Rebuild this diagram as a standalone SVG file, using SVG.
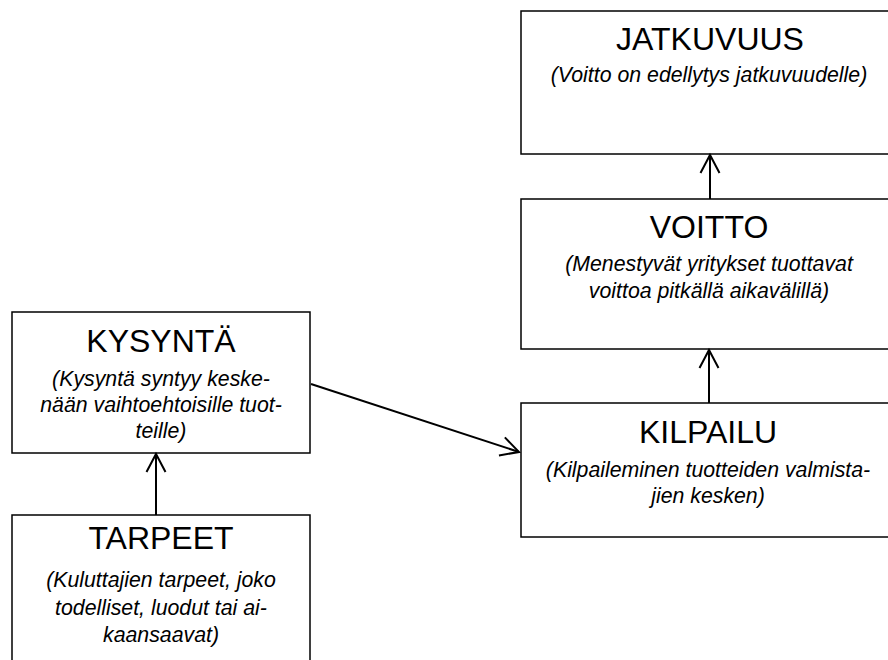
<svg xmlns="http://www.w3.org/2000/svg" width="888" height="660" viewBox="0 0 888 660">
<style>
.box{fill:#fff;stroke:#000;stroke-width:1.5}
.t{font-family:"Liberation Sans",Arial,sans-serif;font-size:32px;text-anchor:middle;fill:#000}
.s{font-family:"Liberation Sans",Arial,sans-serif;font-size:21.3px;font-style:italic;text-anchor:middle;fill:#000}
.c{stroke:#000;stroke-width:2;fill:none}
</style>
<defs>
<marker id="arr" markerUnits="userSpaceOnUse" markerWidth="30" markerHeight="30" viewBox="-22 -15 30 30" refX="0" refY="0" orient="auto">
<path d="M-18,-9.5 L0,0 L-18,9.5" fill="none" stroke="#000" stroke-width="2"/>
</marker>
</defs>
<rect width="888" height="660" fill="#fff"/>
<g id="jatkuvuus">
<rect class="box" x="521" y="11" width="380" height="143"/>
<text class="t" x="710" y="50">JATKUVUUS</text>
<text class="s" x="709" y="82">(Voitto on edellytys jatkuvuudelle)</text>
</g>
<g id="voitto">
<rect class="box" x="521" y="199" width="380" height="150"/>
<text class="t" x="709" y="238">VOITTO</text>
<text class="s" x="709" y="271">(Menestyvät yritykset tuottavat</text>
<text class="s" x="709" y="298">voittoa pitkällä aikavälillä)</text>
</g>
<g id="kilpailu">
<rect class="box" x="521" y="403" width="380" height="134"/>
<text class="t" x="708" y="443">KILPAILU</text>
<text class="s" x="708" y="477">(Kilpaileminen tuotteiden valmista-</text>
<text class="s" x="708" y="503">jien kesken)</text>
</g>
<g id="kysynta">
<rect class="box" x="12" y="312" width="298" height="141"/>
<text class="t" x="161" y="352">KYSYNTÄ</text>
<text class="s" x="161" y="386">(Kysyntä syntyy keske-</text>
<text class="s" x="161" y="412">nään vaihtoehtoisille tuot-</text>
<text class="s" x="161" y="438">teille)</text>
</g>
<g id="tarpeet">
<rect class="box" x="12" y="515" width="298" height="170"/>
<text class="t" x="161" y="549">TARPEET</text>
<text class="s" x="161" y="587">(Kuluttajien tarpeet, joko</text>
<text class="s" x="161" y="615">todelliset, luodut tai ai-</text>
<text class="s" x="161" y="642">kaansaavat)</text>
</g>
<g id="connectors">
<line class="c" x1="710" y1="199" x2="710" y2="155" marker-end="url(#arr)"/>
<line class="c" x1="709" y1="403" x2="709" y2="350" marker-end="url(#arr)"/>
<line class="c" x1="156" y1="515" x2="156" y2="454" marker-end="url(#arr)"/>
<line class="c" x1="311" y1="384" x2="519" y2="452" marker-end="url(#arr)"/>
</g>
</svg>
